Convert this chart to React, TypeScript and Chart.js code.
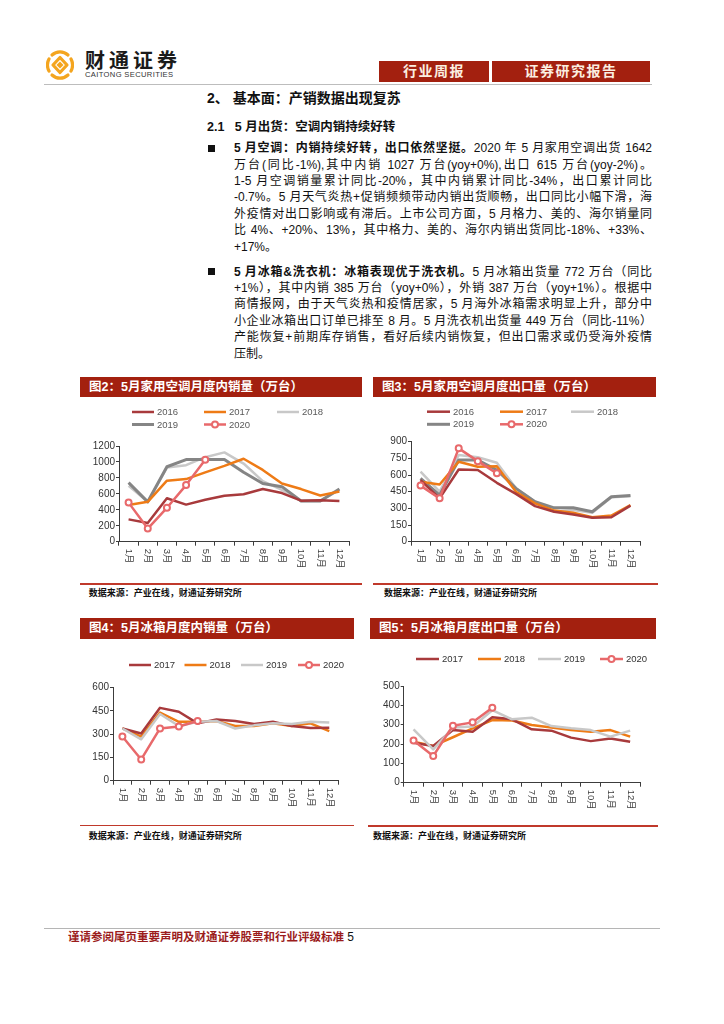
import React, { useEffect, useRef } from "react";
import { Chart, registerables } from "chart.js";

Chart.register(...registerables);

const FONT = "'Liberation Sans', 'Noto Sans CJK SC', Arial, sans-serif";
Chart.defaults.font.family = FONT;

// ---------- data ----------
const months = ["1月", "2月", "3月", "4月", "5月", "6月", "7月", "8月", "9月", "10月", "11月", "12月"];

// 图2 家用空调月度内销量（万台）
const acDomesticTicks = [0, 200, 400, 600, 800, 1000, 1200];
const acDomestic2016 = [280, 235, 545, 465, 525, 575, 595, 660, 610, 515, 520, 510];
const acDomestic2017 = [460, 500, 765, 785, 870, 950, 1040, 900, 730, 660, 580, 630];
const acDomestic2018 = [700, 500, 930, 960, 1060, 1120, 980, 760, 650, 510, 510, 650];
const acDomestic2019 = [740, 500, 940, 1030, 1030, 1030, 870, 730, 690, 510, 510, 660];
const acDomestic2020 = [490, 165, 425, 710, 1027];

// 图3 家用空调月度出口量（万台）
const acExportTicks = [0, 150, 300, 450, 600, 750, 900];
const acExport2016 = [555, 390, 650, 645, 530, 430, 320, 270, 245, 215, 220, 325];
const acExport2017 = [540, 515, 720, 675, 680, 450, 345, 280, 260, 220, 235, 330];
const acExport2018 = [630, 450, 780, 760, 710, 480, 360, 270, 285, 260, 400, 410];
const acExport2019 = [570, 420, 735, 735, 645, 480, 360, 305, 305, 270, 405, 415];
const acExport2020 = [505, 390, 840, 725, 615];

// 图4 冰箱月度内销量（万台）
const frDomesticTicks = [0, 150, 300, 450, 600];
const frDomestic2017 = [337, 305, 470, 445, 370, 395, 385, 366, 380, 353, 340, 342];
const frDomestic2018 = [337, 284, 440, 380, 380, 385, 353, 353, 370, 353, 370, 320];
const frDomestic2019 = [337, 267, 430, 353, 380, 385, 337, 357, 370, 366, 380, 375];
const frDomestic2020 = [285, 137, 337, 350, 385];

// 图5 冰箱月度出口量（万台）
const frExportTicks = [0, 100, 200, 300, 400, 500];
const frExport2017 = [207, 190, 272, 264, 338, 328, 276, 269, 233, 215, 229, 212];
const frExport2018 = [212, 190, 235, 281, 324, 322, 298, 286, 272, 264, 272, 238];
const frExport2019 = [276, 172, 285, 290, 375, 328, 336, 293, 281, 272, 238, 269];
const frExport2020 = [218, 138, 295, 312, 387];

// ---------- styles ----------
const C2016 = "#a83a3c";
const C2017 = "#ee7b16";
const C2018 = "#c8c8c8";
const C2019 = "#858585";
const C2020 = "#e8696b";
const RED = "#a3200f";
const AXIS = "#3c3c3c";

type Series = { label: string; data: number[]; color: string; width: number; marker?: boolean; order: number };
type Box = { left: number; top: number; width: number; height: number };
type Plot = { left: number; right: number; top: number; bottom: number };
type LegendCfg = { rows: number[]; cols: number[]; perRow: number; lineLen: number; fontSize: number; color: string };

function LineChart(props: { box: Box; plot: Plot; ticks: number[]; series: Series[]; legend: LegendCfg; yFont: number }) {
  const ref = useRef<HTMLCanvasElement | null>(null);
  useEffect(() => {
    const canvas = ref.current;
    if (!canvas) return;
    const { box, plot, ticks, series, legend, yFont } = props;
    const YW = 30;
    const XH = 30;
    const padding = {
      left: plot.left - box.left - YW,
      right: box.left + box.width - plot.right,
      top: plot.top - box.top,
      bottom: box.top + box.height - plot.bottom - XH,
    };

    const legendPlugin = {
      id: "rowLegend",
      afterDraw(chart: any) {
        const ctx = chart.ctx;
        ctx.save();
        chart.data.datasets.forEach((d: any, i: number) => {
          const row = Math.floor(i / legend.perRow);
          const col = i % legend.perRow;
          const x = legend.cols[col] - box.left;
          const y = legend.rows[row] - box.top;
          ctx.strokeStyle = d.borderColor;
          ctx.lineWidth = d.borderWidth;
          ctx.lineCap = "butt";
          ctx.beginPath();
          ctx.moveTo(x, y);
          ctx.lineTo(x + legend.lineLen, y);
          ctx.stroke();
          if (d.pointRadius > 0) {
            ctx.beginPath();
            ctx.arc(x + legend.lineLen / 2, y, d.pointRadius, 0, Math.PI * 2);
            ctx.fillStyle = "#ffffff";
            ctx.fill();
            ctx.lineWidth = d.pointBorderWidth;
            ctx.stroke();
          }
          ctx.fillStyle = legend.color;
          ctx.font = `${legend.fontSize}px ${FONT}`;
          ctx.textAlign = "left";
          ctx.textBaseline = "middle";
          ctx.fillText(d.label, x + legend.lineLen + 3, y + 0.5);
        });
        ctx.restore();
      },
    };

    const xLabelPlugin = {
      id: "verticalXLabels",
      afterDraw(chart: any) {
        const ctx = chart.ctx;
        const xs = chart.scales.x;
        ctx.save();
        ctx.fillStyle = "#404040";
        ctx.font = `9.5px ${FONT}`;
        ctx.textAlign = "left";
        ctx.textBaseline = "middle";
        chart.data.labels.forEach((lab: string, i: number) => {
          const x = xs.getPixelForValue(i);
          ctx.save();
          ctx.translate(x, xs.top + 7);
          ctx.rotate(Math.PI / 2);
          ctx.fillText(lab, 0, 0);
          ctx.restore();
        });
        ctx.restore();
      },
    };

    const chart = new Chart(canvas, {
      type: "line",
      data: {
        labels: months,
        datasets: series.map((s) => ({
          label: s.label,
          data: s.data,
          borderColor: s.color,
          backgroundColor: s.color,
          borderWidth: s.width,
          borderJoinStyle: "round",
          pointRadius: s.marker ? 3 : 0,
          pointHoverRadius: 0,
          pointBorderWidth: 2,
          pointBorderColor: s.color,
          pointBackgroundColor: "#ffffff",
          tension: 0,
          fill: false,
          order: s.order,
        })),
      } as any,
      options: {
        animation: false,
        responsive: false,
        events: [],
        layout: { padding },
        plugins: { legend: { display: false }, tooltip: { enabled: false } },
        scales: {
          x: {
            type: "category",
            offset: true,
            grid: { offset: true, drawOnChartArea: false, drawTicks: true, tickLength: 4, color: AXIS, lineWidth: 1 },
            border: { color: AXIS, width: 1 },
            ticks: { display: false },
            afterFit: (s: any) => {
              s.height = XH;
            },
          },
          y: {
            min: ticks[0],
            max: ticks[ticks.length - 1],
            ticks: {
              stepSize: ticks[1] - ticks[0],
              color: "#333333",
              font: { size: yFont },
              padding: 1,
              callback: (v: any) => String(v),
            },
            grid: { drawOnChartArea: false, drawTicks: true, tickLength: 3, color: AXIS, lineWidth: 1 },
            border: { color: AXIS, width: 1 },
            afterFit: (s: any) => {
              s.width = YW;
            },
          },
        },
      } as any,
      plugins: [legendPlugin, xLabelPlugin],
    });
    return () => chart.destroy();
  }, []);
  const { box } = props;
  return (
    <canvas
      ref={ref}
      width={box.width}
      height={box.height}
      style={{ position: "absolute", left: box.left, top: box.top, width: box.width, height: box.height }}
    />
  );
}

// ---------- page pieces ----------
function Abs(props: { x: number; y: number; w?: number; h?: number; style?: React.CSSProperties; children?: React.ReactNode }) {
  return (
    <div style={{ position: "absolute", left: props.x, top: props.y, width: props.w, height: props.h, ...props.style }}>
      {props.children}
    </div>
  );
}

function TextLine(props: { y: number; last?: boolean; children: React.ReactNode }) {
  return (
    <div
      style={{
        position: "absolute",
        left: 234,
        top: props.y - 8.2,
        width: 418,
        height: 16.4,
        lineHeight: "16.4px",
        fontSize: 12,
        color: "#111",
        textAlign: props.last ? "left" : "justify",
        textAlignLast: props.last ? "left" : "justify",
      } as React.CSSProperties}
    >
      {props.children}
    </div>
  );
}

function ChartHeader(props: { x: number; y: number; w: number; h: number; title: string }) {
  return (
    <Abs x={props.x} y={props.y} w={props.w} h={props.h} style={{ background: RED }}>
      <div
        style={{
          position: "absolute",
          left: 9,
          top: 0,
          height: props.h,
          lineHeight: props.h + "px",
          fontSize: 12.5,
          fontWeight: 700,
          color: "#ffffff",
          whiteSpace: "nowrap",
        }}
      >
        {props.title}
      </div>
    </Abs>
  );
}

function Source(props: { x: number; y: number; lineX: number; lineW: number; lineY: number }) {
  return (
    <>
      <Abs x={props.lineX} y={props.lineY - 0.75} w={props.lineW} h={1.5} style={{ background: "#c0392b" }} />
      <Abs x={props.x} y={props.y - 6} h={12} style={{ fontSize: 9, fontWeight: 700, lineHeight: "12px", color: "#111", whiteSpace: "nowrap" }}>
        数据来源：产业在线，财通证券研究所
      </Abs>
    </>
  );
}

function Logo() {
  return (
    <svg style={{ position: "absolute", left: 46, top: 50 }} width={28} height={30} viewBox="0 0 28 30">
      <g fill="none" stroke="#f4a51f" strokeWidth={3.2} strokeLinecap="round">
        <path d="M6 5 A12 12.5 0 0 1 22 5" />
        <path d="M25 9 A12 12.5 0 0 1 25 21" />
        <path d="M22 25 A12 12.5 0 0 1 6 25" />
        <path d="M3 21 A12 12.5 0 0 1 3 9" />
        <path d="M14 7.5 L21 15 L14 22.5 L7 15 Z" strokeLinejoin="round" />
      </g>
      <rect x={11.5} y={12.5} width={5} height={5} fill="#f4a51f" transform="rotate(45 14 15)" />
    </svg>
  );
}

const p1y = [148.3, 164.7, 181.1, 197.5, 213.9, 230.3, 246.7];
const p2y = [271.7, 288.1, 304.5, 320.9, 337.3, 353.7];

export default function App() {
  const acDomSeries: Series[] = [
    { label: "2016", data: acDomestic2016, color: C2016, width: 2.5, order: 1 },
    { label: "2017", data: acDomestic2017, color: C2017, width: 2.5, order: 2 },
    { label: "2018", data: acDomestic2018, color: C2018, width: 2.5, order: 4 },
    { label: "2019", data: acDomestic2019, color: C2019, width: 3, order: 3 },
    { label: "2020", data: acDomestic2020, color: C2020, width: 2.5, marker: true, order: 0 },
  ];
  const acExpSeries: Series[] = [
    { label: "2016", data: acExport2016, color: C2016, width: 2.5, order: 1 },
    { label: "2017", data: acExport2017, color: C2017, width: 2.5, order: 2 },
    { label: "2018", data: acExport2018, color: C2018, width: 2.5, order: 4 },
    { label: "2019", data: acExport2019, color: C2019, width: 3, order: 3 },
    { label: "2020", data: acExport2020, color: C2020, width: 2.5, marker: true, order: 0 },
  ];
  const frDomSeries: Series[] = [
    { label: "2017", data: frDomestic2017, color: C2016, width: 2.5, order: 2 },
    { label: "2018", data: frDomestic2018, color: C2017, width: 2.5, order: 3 },
    { label: "2019", data: frDomestic2019, color: C2018, width: 2.5, order: 1 },
    { label: "2020", data: frDomestic2020, color: C2020, width: 2.5, marker: true, order: 0 },
  ];
  const frExpSeries: Series[] = [
    { label: "2017", data: frExport2017, color: C2016, width: 2.5, order: 2 },
    { label: "2018", data: frExport2018, color: C2017, width: 2.5, order: 3 },
    { label: "2019", data: frExport2019, color: C2018, width: 2.5, order: 1 },
    { label: "2020", data: frExport2020, color: C2020, width: 2.5, marker: true, order: 0 },
  ];

  return (
    <div
      style={{
        position: "absolute",
        left: 0,
        top: 0,
        width: 724,
        height: 1024,
        background: "#ffffff",
        fontFamily: FONT,
        color: "#111",
        overflow: "hidden",
      }}
    >
      {/* header */}
      <Logo />
      <Abs x={85} y={50} h={22} style={{ fontSize: 20, fontWeight: 700, letterSpacing: 4, lineHeight: "22px", color: "#1a1a1a", whiteSpace: "nowrap" }}>
        财通证券
      </Abs>
      <Abs x={85} y={70} h={9} style={{ fontSize: 7.6, letterSpacing: 0.35, lineHeight: "9px", color: "#333", whiteSpace: "nowrap" }}>
        CAITONG SECURITIES
      </Abs>
      <Abs x={379} y={61} w={110} h={21} style={{ background: RED, color: "#fbeee0", fontSize: 14, fontWeight: 700, letterSpacing: 1.5, lineHeight: "21px", textAlign: "center" }}>
        行业周报
      </Abs>
      <Abs x={492} y={61} w={158} h={21} style={{ background: RED, color: "#fbeee0", fontSize: 14, fontWeight: 700, letterSpacing: 1.5, lineHeight: "21px", textAlign: "center" }}>
        证券研究报告
      </Abs>
      <Abs x={44} y={83.5} w={608} h={1.5} style={{ background: "#bdbdbd" }} />

      {/* section titles */}
      <Abs x={207} y={90} h={17} style={{ fontSize: 14, fontWeight: 700, lineHeight: "17px", whiteSpace: "nowrap" }}>
        2、 基本面：产销数据出现复苏
      </Abs>
      <Abs x={207} y={118.5} h={16} style={{ fontSize: 12.5, fontWeight: 700, lineHeight: "16px", whiteSpace: "nowrap" }}>
        2.1&nbsp;&nbsp;&nbsp;5 月出货：空调内销持续好转
      </Abs>

      {/* paragraph 1 */}
      <Abs x={207.5} y={p1y[0] - 3.6} w={7.4} h={7.2} style={{ background: "#111" }} />
      <TextLine y={p1y[0]}>
        <b>5 月空调：内销持续好转，出口依然坚挺。</b>2020 年 5 月家用空调出货 1642
      </TextLine>
      <TextLine y={p1y[1]}>万台(同比-1%),其中内销 1027 万台(yoy+0%),出口 615 万台(yoy-2%)。</TextLine>
      <TextLine y={p1y[2]}>1-5 月空调销量累计同比-20%，其中内销累计同比-34%，出口累计同比</TextLine>
      <TextLine y={p1y[3]}>-0.7%。5 月天气炎热+促销频频带动内销出货顺畅，出口同比小幅下滑，海</TextLine>
      <TextLine y={p1y[4]}>外疫情对出口影响或有滞后。上市公司方面，5 月格力、美的、海尔销量同</TextLine>
      <TextLine y={p1y[5]}>比 4%、+20%、13%，其中格力、美的、海尔内销出货同比-18%、+33%、</TextLine>
      <TextLine y={p1y[6]} last>
        +17%。
      </TextLine>

      {/* paragraph 2 */}
      <Abs x={207.5} y={p2y[0] - 3.6} w={7.4} h={7.2} style={{ background: "#111" }} />
      <TextLine y={p2y[0]}>
        <b>5 月冰箱&amp;洗衣机：冰箱表现优于洗衣机。</b>5 月冰箱出货量 772 万台（同比
      </TextLine>
      <TextLine y={p2y[1]}>+1%），其中内销 385 万台（yoy+0%），外销 387 万台（yoy+1%）。根据中</TextLine>
      <TextLine y={p2y[2]}>商情报网，由于天气炎热和疫情居家，5 月海外冰箱需求明显上升，部分中</TextLine>
      <TextLine y={p2y[3]}>小企业冰箱出口订单已排至 8 月。5 月洗衣机出货量 449 万台（同比-11%）</TextLine>
      <TextLine y={p2y[4]}>产能恢复+前期库存销售，看好后续内销恢复，但出口需求或仍受海外疫情</TextLine>
      <TextLine y={p2y[5]} last>
        压制。
      </TextLine>

      {/* chart 2 */}
      <ChartHeader x={80} y={377} w={282} h={20} title="图2：5月家用空调月度内销量（万台）" />
      <LineChart
        box={{ left: 80, top: 400, width: 282, height: 180 }}
        plot={{ left: 119, right: 349, top: 446, bottom: 541.7 }}
        ticks={acDomesticTicks}
        series={acDomSeries}
        yFont={10}
        legend={{ rows: [412, 424.5], cols: [132, 204, 277], perRow: 3, lineLen: 22, fontSize: 9.5, color: "#595959" }}
      />
      <Source x={88.7} y={593.3} lineX={80} lineW={282} lineY={584} />

      {/* chart 3 */}
      <ChartHeader x={373} y={377} w={283} h={20} title="图3：5月家用空调月度出口量（万台）" />
      <LineChart
        box={{ left: 373, top: 400, width: 285, height: 180 }}
        plot={{ left: 411, right: 640, top: 441.7, bottom: 541.7 }}
        ticks={acExportTicks}
        series={acExpSeries}
        yFont={10}
        legend={{ rows: [411.7, 424.3], cols: [427, 500, 571], perRow: 3, lineLen: 23, fontSize: 9.5, color: "#595959" }}
      />
      <Source x={384} y={593.3} lineX={373} lineW={285} lineY={584} />

      {/* chart 4 */}
      <ChartHeader x={80} y={618} w={274} h={21} title="图4：5月冰箱月度内销量（万台）" />
      <LineChart
        box={{ left: 80, top: 645, width: 274, height: 178 }}
        plot={{ left: 113, right: 338.7, top: 687.7, bottom: 780.7 }}
        ticks={frDomesticTicks}
        series={frDomSeries}
        yFont={10}
        legend={{ rows: [665], cols: [129, 184.5, 241, 298], perRow: 4, lineLen: 22, fontSize: 9.5, color: "#333333" }}
      />
      <Source x={88.7} y={835.5} lineX={80} lineW={274} lineY={825.7} />

      {/* chart 5 */}
      <ChartHeader x={370} y={618} w={286} h={21} title="图5：5月冰箱月度出口量（万台）" />
      <LineChart
        box={{ left: 368, top: 645, width: 290, height: 178 }}
        plot={{ left: 403.7, right: 640, top: 686, bottom: 782.7 }}
        ticks={frExportTicks}
        series={frExpSeries}
        yFont={10}
        legend={{ rows: [659], cols: [416, 478, 538, 600], perRow: 4, lineLen: 23, fontSize: 9.5, color: "#333333" }}
      />
      <Source x={373} y={835.7} lineX={368} lineW={290} lineY={826} />

      {/* footer */}
      <Abs x={44} y={927.5} w={616} h={1} style={{ background: "#b5b5b5" }} />
      <Abs x={68} y={929} h={16} style={{ fontSize: 11.5, lineHeight: "16px", whiteSpace: "nowrap" }}>
        <span style={{ color: "#9b1c1c", fontWeight: 700 }}>谨请参阅尾页重要声明及财通证券股票和行业评级标准</span>
        <span style={{ color: "#111", fontSize: 12 }}> 5</span>
      </Abs>
    </div>
  );
}
